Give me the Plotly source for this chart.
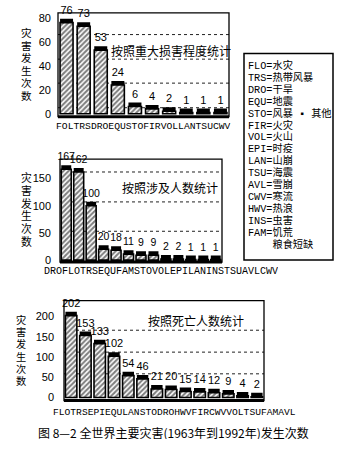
import plotly.graph_objects as go

# ---------------- data ----------------
CATS1 = ["FOL", "TRS", "DRO", "EQU", "STO", "FIR", "VOL", "LAN", "TSU", "CWV"]
VALS1 = [76, 73, 53, 24, 6, 4, 2, 1, 1, 1]
TICKS1 = [0, 20, 40, 60, 80]
TITLE1 = "按照重大损害程度统计"

CATS2 = ["DRO", "FLO", "TRS", "EQU", "FAM", "STO", "VOL", "EPI", "LAN", "INS", "TSU", "AVL", "CWV"]
VALS2 = [167, 162, 100, 20, 18, 11, 9, 9, 2, 2, 1, 1, 1]
TICKS2 = [0, 50, 100, 150]
TITLE2 = "按照涉及人数统计"

CATS3 = ["FLO", "TRS", "EPI", "EQU", "LAN", "STO", "DRO", "HWV", "FIR", "CWV", "VOL", "TSU", "FAM", "AVL"]
VALS3 = [202, 153, 133, 102, 54, 46, 21, 20, 15, 14, 12, 9, 4, 2]
TICKS3 = [0, 50, 100, 150, 200]
TITLE3 = "按照死亡人数统计"

Y_TITLE = "灾害发生次数"
LEGEND_LINES = ["FLO=水灾", "TRS=热带风暴", "DRO=干旱", "EQU=地震", "STO=风暴 ▪ 其他",
                "FIR=火灾", "VOL=火山", "EPI=时疫", "LAN=山崩", "TSU=海震", "AVL=雪崩",
                "CWV=寒流", "HWV=热浪", "INS=虫害", "FAM=饥荒",
                "\u00a0\u00a0\u00a0\u00a0粮食短缺"]
CAPTION = "图 8—2 全世界主要灾害(1963年到1992年)发生次数"

# ---------------- layout helpers ----------------
W, H = 346, 449
def fx(px):
    return px / W
def fy(px):
    return 1 - px / H

CJK = "Noto Sans CJK SC"
MONO = "Liberation Mono"
SANS = "Liberation Sans"
LINE_SPACING = 1.3  # plotly's multi-line spacing, in em of the annotation font

panels = [
    dict(cats=CATS1, vals=VALS1, ticks=TICKS1, title=TITLE1, xd=(58, 229), yd=(12, 117),
         yr=(-2.5, 84.1), grid=[66, 45.5, 25.5, 5], title_xy=(171, 50),
         lab=(55, 127, 9.7), yt=(26, 32, 12.6), standoff=6, bw=0.76, tsize=11),
    dict(cats=CATS2, vals=VALS2, ticks=TICKS2, title=TITLE2, xd=(60, 222), yd=(160, 264),
         yr=(-3.6, 185.5), grid=[162, 107, 53], title_xy=(170, 189),
         lab=(43, 274, 10), yt=(26, 178, 12.8), standoff=8, bw=0.8, tsize=10.5),
    dict(cats=CATS3, vals=VALS3, ticks=TICKS3, title=TITLE3, xd=(64, 264), yd=(303, 404),
         yr=(-7.3, 239), grid=[166, 112, 58.5], title_xy=(196, 323),
         lab=(52, 416, 9.65), yt=(21, 322, 12.2), standoff=9, bw=0.8, tsize=11),
]

CAP_PX = 4

fig = go.Figure()
shapes = []
annotations = []
layout_axes = {}

def note(x, y, text, font, xanchor="center", **kw):
    d = dict(x=fx(x), y=fy(y), xref="paper", yref="paper", xanchor=xanchor,
             yanchor="middle", showarrow=False, text=text, font=font)
    d.update(kw)
    annotations.append(d)

def stacked(lines, glyph_px):
    return "<br>".join('<span style="font-size:%.1fpx">%s</span>' % (glyph_px, s) for s in lines)

for i, p in enumerate(panels, start=1):
    sfx = "" if i == 1 else str(i)
    xa, ya = "x" + sfx, "y" + sfx
    n = len(p["cats"])
    span = p["yr"][1] - p["yr"][0]
    dom_px = p["yd"][1] - p["yd"][0]
    cap = CAP_PX * span / dom_px

    fig.add_trace(go.Bar(
        x=p["cats"], y=p["vals"], xaxis=xa, yaxis=ya, width=p["bw"],
        marker=dict(color="white",
                    pattern=dict(shape="/", fgcolor="black", bgcolor="white", size=3.6, solidity=0.55),
                    line=dict(color="black", width=1.6)),
        hoverinfo="skip"))
    fig.add_trace(go.Bar(
        x=p["cats"], y=[cap] * n, base=p["vals"], xaxis=xa, yaxis=ya, width=p["bw"],
        marker=dict(color="black", line=dict(width=0)),
        text=[str(v) for v in p["vals"]], textposition="outside", textangle=0,
        constraintext="none", cliponaxis=False,
        textfont=dict(family=SANS, size=p["tsize"], color="black"),
        hoverinfo="skip"))

    layout_axes["xaxis" + sfx] = dict(
        domain=[fx(p["xd"][0]), fx(p["xd"][1])], anchor=ya, type="category",
        range=[-0.5, n - 0.5], showticklabels=False, showgrid=False,
        zeroline=False, showline=False, fixedrange=True)
    layout_axes["yaxis" + sfx] = dict(
        domain=[fy(p["yd"][1]), fy(p["yd"][0])], anchor=xa, range=list(p["yr"]),
        tickvals=p["ticks"], ticktext=[str(t) for t in p["ticks"]],
        showgrid=False, zeroline=False, showline=False, ticks="",
        ticklabelstandoff=p["standoff"],
        tickfont=dict(family=SANS, size=11, color="black"), fixedrange=True)

    # dotted back-wall grid
    for g in p["grid"]:
        shapes.append(dict(type="line", xref=xa + " domain", yref=ya, x0=0, x1=1, y0=g, y1=g,
                           line=dict(color="#222", width=1, dash="dot"), layer="below"))
    # box
    shapes.append(dict(type="rect", xref=xa + " domain", yref=ya + " domain", x0=0, x1=1,
                       y0=0, y1=1, line=dict(color="black", width=1.3), layer="above"))
    shapes.append(dict(type="line", xref=xa + " domain", yref=ya + " domain", x0=0, x1=1,
                       y0=0, y1=0, line=dict(color="black", width=3), layer="above"))

    # category labels (run together as in the original)
    lx, ly, ls = p["lab"]
    note(lx, ly, "".join(p["cats"]), dict(family=MONO, size=ls, color="black"),
         xanchor="left", height=11, borderpad=0)
    # chart title inside plot
    tx, ty = p["title_xy"]
    note(tx, ty, p["title"], dict(family=CJK, size=12, color="black"))
    # vertical y-axis title: one character per line in a single text block
    yx, y0, dy = p["yt"]
    nch = len(Y_TITLE)
    note(yx, y0 + dy * (nch - 1) / 2, stacked(list(Y_TITLE), round(dy * 0.84, 1)),
         dict(family=CJK, size=dy / LINE_SPACING, color="black"), borderpad=0)

# legend box
shapes.append(dict(type="rect", xref="paper", yref="paper", x0=fx(244), x1=fx(333),
                   y0=fy(262), y1=fy(53), line=dict(color="black", width=1.5)))
LEG_Y0, LEG_DY = 66.5, 11.9
note(247, LEG_Y0 + LEG_DY * (len(LEGEND_LINES) - 1) / 2, stacked(LEGEND_LINES, 10.2),
     dict(family=MONO + ", " + CJK, size=LEG_DY / LINE_SPACING, color="black"),
     xanchor="left", align="left", borderpad=0)

# caption
note(173, 436, CAPTION, dict(family=CJK, size=12, color="black"), height=14, borderpad=0)

fig.update_layout(
    width=W, height=H, margin=dict(l=0, r=0, t=0, b=0),
    paper_bgcolor="white", plot_bgcolor="white", showlegend=False,
    barmode="overlay", shapes=shapes, annotations=annotations, **layout_axes)

fig.write_html("out.html", config={"displayModeBar": False})
